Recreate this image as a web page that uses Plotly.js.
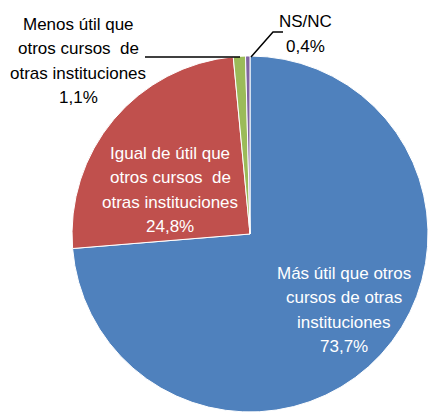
<!DOCTYPE html>
<html>
<head>
<meta charset="utf-8">
<script src="https://cdn.plot.ly/plotly-3.0.1.min.js"></script>
<style>
html,body{margin:0;padding:0;background:#fff;overflow:hidden;}
#chart{width:432px;height:412px;}
</style>
</head>
<body>
<div id="chart"></div>
<script>
var categories = [
  "Más útil que otros<br>cursos de otras<br>instituciones",
  "Igual de útil que<br>otros cursos  de<br>otras instituciones",
  "Menos útil que<br>otros cursos  de<br>otras instituciones",
  "NS/NC"
];
var values = [73.7, 24.8, 1.1, 0.4];
var valueLabels = ["73,7%", "24,8%", "1,1%", "0,4%"];
var colors = ["#4F81BD", "#C0504D", "#9BBB59", "#8064A2"];

var W = 432, H = 412;
function px(x){ return x / W; }
function py(y){ return 1 - y / H; }

var FONT = "'Liberation Sans', Arial, sans-serif";
var LINE = 24.5;

var labelPos = [
  {x: 344, y: 310, color: "#ffffff"},
  {x: 170, y: 190, color: "#ffffff"},
  {x: 78,  y: 61,  color: "#000000"},
  {x: 305, y: 34,  color: "#000000"}
];

var annotations = [];
categories.forEach(function(c, i){
  var lines = c.split("<br>").concat([valueLabels[i]]);
  var n = lines.length;
  lines.forEach(function(t, k){
    annotations.push({
      xref: "paper", yref: "paper",
      x: px(labelPos[i].x), y: py(labelPos[i].y + (k - (n - 1) / 2) * LINE),
      xanchor: "center", yanchor: "middle",
      text: t,
      showarrow: false,
      font: {family: FONT, size: 17, color: labelPos[i].color}
    });
  });
});

var shapes = [
  {type: "path", xref: "paper", yref: "paper",
   path: "M " + px(145) + " " + py(57) + " L " + px(240) + " " + py(57),
   line: {color: "#000", width: 1.5}},
  {type: "path", xref: "paper", yref: "paper",
   path: "M " + px(251) + " " + py(57) + " L " + px(273) + " " + py(32) + " L " + px(283) + " " + py(32),
   line: {color: "#000", width: 1.5}}
];

var data = [{
  type: "pie",
  labels: categories,
  values: values,
  marker: {colors: colors, line: {color: "#ffffff", width: 1}},
  sort: false,
  direction: "clockwise",
  rotation: 0,
  textinfo: "none",
  hoverinfo: "none",
  domain: {x: [px(72), px(428)], y: [0, 356 / H]}
}];

var layout = {
  width: W, height: H,
  margin: {l: 0, r: 0, t: 0, b: 0},
  paper_bgcolor: "#ffffff",
  showlegend: false,
  annotations: annotations,
  shapes: shapes
};

Plotly.newPlot("chart", data, layout, {displayModeBar: false, staticPlot: true});
</script>
</body>
</html>
